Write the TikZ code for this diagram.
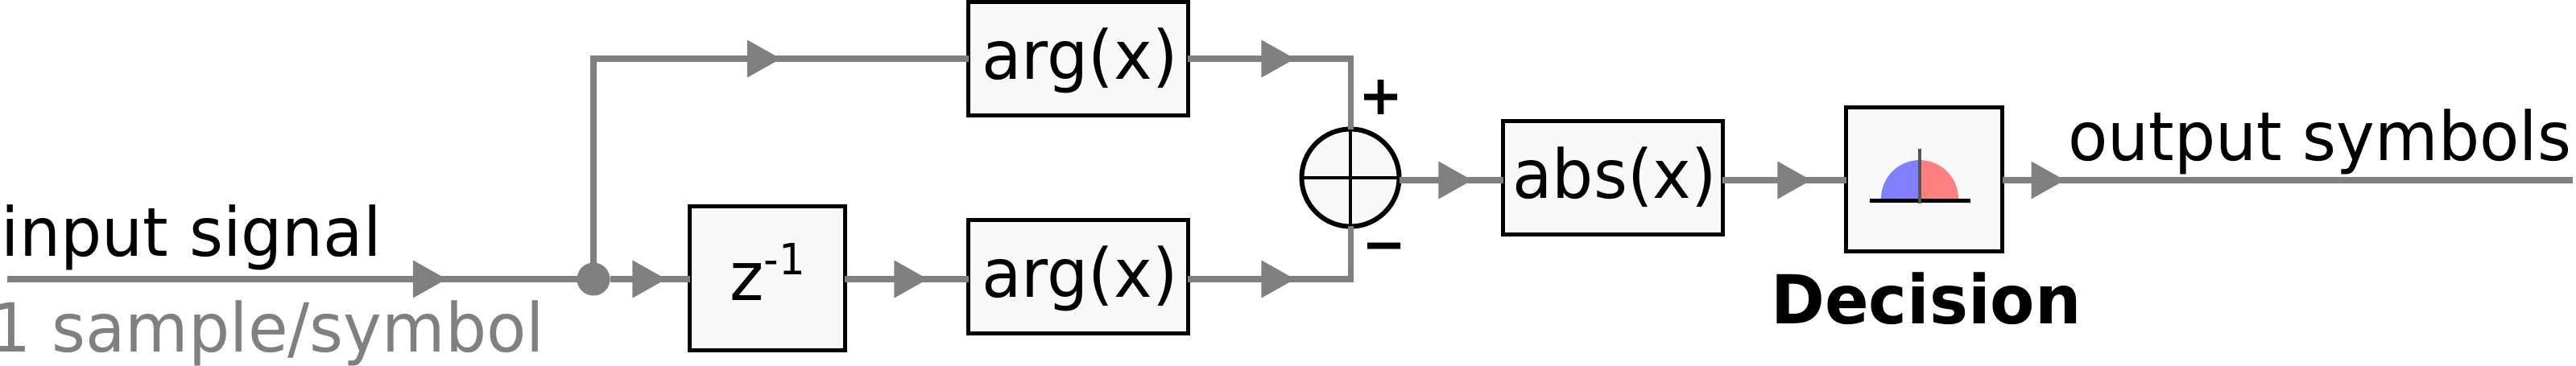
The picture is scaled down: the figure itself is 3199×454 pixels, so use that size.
\documentclass[tikz,border=0pt]{standalone}
\usepackage{fontspec}
\setmainfont[FakeStretch=0.96]{DejaVu Sans}
\usepackage{xcolor}
\usetikzlibrary{arrows.meta,decorations.markings}
\definecolor{cWire}{HTML}{808080}
\definecolor{cBlock}{HTML}{F9F9F9}
\definecolor{cLow}{HTML}{8080FF}
\definecolor{cHigh}{HTML}{FF8080}
\definecolor{cNeedle}{HTML}{555555}
\newcommand{\bigtext}{\fontsize{47.8}{57}\selectfont}
\newcommand{\suptext}{\fontsize{30.5}{36}\selectfont}
\tikzset{
  block/.style={draw=black,fill=cBlock,line width=3pt,inner sep=0pt,outer sep=0pt,font=\bigtext,text height=1cm,text depth=0pt},
  lbl/.style={inner sep=0pt,outer sep=0pt,font=\bigtext},
  sgn/.style={inner sep=0pt,outer sep=0pt,font=\fontsize{39}{45}\selectfont\bfseries},
  wire/.style={draw=cWire,line width=4pt},
  tipat/.style={postaction={decorate},decoration={markings,
    mark=at position #1 with {\arrow[cWire]{Triangle[length=0.84cm,width=0.9cm]}}}},
}
\begin{document}
\begin{tikzpicture}[x=0.02cm,y=-0.02cm]
  \useasboundingbox (0,0) rectangle (3199,454);
  % free ends of the main line
  \coordinate (insrc) at (9,347);
  \coordinate (outend) at (3195,224);
  \coordinate (midrow) at (0,224);
  % blocks
  \node[circle,fill=cWire,minimum size=0.82cm,inner sep=0pt,outer sep=0pt] (dot) at (737,347) {};
  \node[block,text height=1.08cm,minimum width=3.86cm,minimum height=3.58cm] (zbox) at (953,346) {z\raisebox{0.64cm}{\suptext -1}};
  \node[block,minimum width=5.46cm,minimum height=2.82cm] (argtop) at (1339,73) {\hspace{0.08cm}arg(x)};
  \node[block,minimum width=5.46cm,minimum height=2.82cm] (argbot) at (1339,344) {\hspace{0.08cm}arg(x)};
  \node[block,minimum width=5.46cm,minimum height=2.82cm] (absbox) at (2003,221) {\hspace{0.08cm}abs(x)};
  \node[block,minimum width=3.88cm,minimum height=3.58cm] (decbox) at (2389.5,223) {};
  \node[circle,draw=black,fill=cBlock,line width=3.4pt,minimum size=2.42cm,inner sep=0pt,outer sep=0pt] (sum) at (1677,221) {};
  % wires
  \draw[wire,tipat=10.92cm] (insrc) -- (dot);
  \draw[wire,tipat=1.40cm] (dot) -- (zbox.west |- dot);
  \draw[wire,tipat=9.73cm] (dot) |- (argtop);
  \draw[wire,tipat=2.06cm] (zbox.east |- dot) -- (argbot.west |- dot);
  \draw[wire,tipat=2.66cm] (argtop) -| (sum);
  \draw[wire,tipat=2.66cm] (argbot.east |- dot) -| (sum);
  \draw[wire,tipat=1.82cm] (sum.east |- midrow) -- (absbox.west |- midrow);
  \draw[wire,tipat=2.20cm] (absbox.east |- midrow) -- (decbox.west |- midrow);
  \draw[wire,tipat=1.56cm] (decbox.east |- midrow) -- (outend);
  % cross in the summing point
  \draw[line width=2.4pt] (sum.north) -- (sum.south);
  \draw[line width=2.4pt] (sum.west) -- (sum.east);
  % slicer symbol
  \coordinate (domec) at (2384,247);
  \fill[cLow] (2336,247) arc[start angle=180,end angle=90,radius=0.96cm] -- (domec) -- cycle;
  \fill[cHigh] (2432,247) arc[start angle=0,end angle=90,radius=0.96cm] -- (domec) -- cycle;
  \draw[line width=2.85pt] (2322,249.5) -- (2447,249.5);
  \draw[cNeedle,line width=2.2pt] (2384,185) -- (2384,253);
  % labels
  \node[lbl,anchor=base west] (lblin) at (2,318) {input signal};
  \node[lbl,anchor=base east,text=cWire] (lblrate) at (676,437) {1 sample/symbol};
  \node[lbl,anchor=base east] (lblout) at (3193,199) {output symbols};
  \node[lbl,anchor=base,font=\bigtext\bfseries] (lbldec) at (2392,402) {Decision};
  \node[sgn] (plus) at (1715,121) {+};
  \node[sgn] (minus) at (1719,315) {−};
\end{tikzpicture}
\end{document}
